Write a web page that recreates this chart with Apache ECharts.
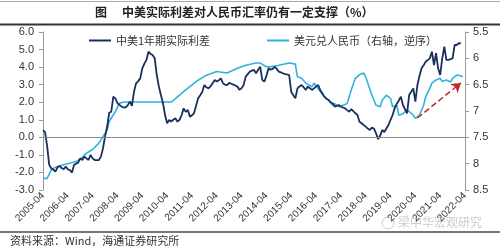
<!DOCTYPE html>
<html><head><meta charset="utf-8">
<script src="https://cdn.jsdelivr.net/npm/echarts@6/dist/echarts.min.js"></script>
<style>html,body{margin:0;padding:0;background:#fff}#c{width:500px;height:250px}</style>
</head><body><div id="c"></div>
<script>
// month index 0 = 2005-04
const startYear = 2005;
const xTickLabels = [];
for (let y = 2005; y <= 2022; y++) xTickLabels.push(y + '-04');
const seriesNames = ['中美1年期实际利差', '美元兑人民币（右轴，逆序）'];
// 中美1年期实际利差, monthly from 2005-04
const spread = [0.40,0.30,-0.5,-1.57,-1.76,-1.85,-1.95,-1.71,-1.63,-1.75,-1.82,-1.67,-1.82,-1.86,-2.01,-1.57,-1.5,-1.44,-1.2,-1.29,
-1.1,-1.2,-1.29,-1.0,-1.2,-1.29,-1.3,-1.29,-1.1,-0.62,0.04,0.6,1.4,1.46,2.32,2.22,1.94,1.85,1.75,1.7,
1.71,1.84,2.03,1.79,2.6,3.08,3.2,3.36,3.93,4.2,4.41,4.88,4.75,4.69,4.5,3.55,2.9,2.41,1.94,1.27,
0.8,0.99,0.9,1.0,1.09,0.89,1.0,1.27,1.65,1.45,1.56,1.18,1.25,1.37,1.8,2.22,2.4,2.6,2.98,2.85,
2.79,2.9,3.08,3.27,3.18,3.25,3.36,3.08,3.0,2.98,3.1,3.05,3.0,2.95,2.89,2.7,2.8,2.98,3.46,3.6,
3.74,3.8,3.84,3.65,3.85,4.02,3.27,3.17,3.5,3.93,3.85,3.9,4.02,3.9,3.74,3.7,3.65,3.6,3.58,3.55,
2.6,2.4,2.22,2.79,2.9,2.98,2.85,2.7,2.89,2.8,2.7,2.79,2.9,2.98,2.7,2.51,2.32,2.2,2.13,2.0,
1.94,1.75,1.8,1.84,1.75,1.7,1.65,1.55,1.46,1.6,1.5,1.37,1.27,0.89,0.8,0.7,0.61,0.5,0.42,0.55,
0.5,0.23,-0.1,0.1,0.42,0.3,0.5,0.7,1.0,1.27,1.65,1.9,2.1,2.32,1.84,1.6,1.37,2.41,2.6,2.79,
2.03,2.98,3.5,3.93,4.1,4.31,4.4,4.5,4.88,4.12,4.79,3.93,3.55,4.5,5.16,4.41,4.41,4.45,4.5,5.26,
5.26,5.36,5.36];
// 美元兑人民币 [month index, rate]
const usdcny = [[0,8.28],[2,8.28],[3,8.2],[4,8.11],[6,8.07],[11,8.01],[16,7.96],[19,7.88],[21,7.8],[24,7.73],[27,7.61],[29,7.49],[31,7.36],[32,7.2],[35,7.01],[37,6.85],[39,6.83],[62,6.83],[65,6.73],[69,6.6],[74,6.44],[79,6.32],[84,6.25],[89,6.28],[94,6.19],[98,6.13],[103,6.09],[105,6.09],[108,6.16],[110,6.16],[114,6.13],[119,6.09],[122,6.11],[123,6.35],[125,6.38],[127,6.47],[130,6.54],[131,6.47],[134,6.63],[136,6.73],[138,6.79],[140,6.89],[141,6.86],[143,6.92],[145,6.89],[147,6.86],[149,6.6],[151,6.38],[153,6.31],[155,6.28],[156,6.35],[157,6.47],[159,6.7],[161,6.89],[163,6.92],[164,6.79],[166,6.7],[168,6.76],[169,6.92],[171,6.89],[172,7.08],[174,7.05],[176,6.98],[177,7.01],[179,7.08],[180,7.14],[182,7.08],[184,6.89],[185,6.73],[187,6.57],[188,6.47],[190,6.41],[192,6.38],[193,6.44],[195,6.41],[197,6.45],[198,6.38],[200,6.32],[201,6.32],[203,6.35]];
// annotation arrow endpoints [month index, spread]
const arrowFrom = [181, 1.1];
const arrowTo = [202, 3.1];

const spreadPairs = spread.map((v, i) => [i, v]);
const font = '"Liberation Sans", Arial, sans-serif';
const cjk = '"Noto Sans CJK SC", sans-serif';
const chart = echarts.init(document.getElementById('c'), null, {renderer: 'canvas'});
chart.setOption({
  animation: false,
  grid: {left: 43, right: 35, top: 32, bottom: 60, containLabel: false},
  legend: [
    {data: [seriesNames[0]], left: 84, top: 30, itemWidth: 22, itemHeight: 10, icon: 'path://M0,4L22,4L22,6L0,6Z',
     textStyle: {fontFamily: cjk, fontSize: 11, color: '#333'}},
    {data: [seriesNames[1]], left: 262, top: 30, itemWidth: 22, itemHeight: 10, icon: 'path://M0,4L22,4L22,6L0,6Z',
     textStyle: {fontFamily: cjk, fontSize: 11, color: '#333'}}
  ],
  xAxis: {
    type: 'value', min: 0, max: 204, interval: 12,
    axisLine: {show: false, onZero: false}, axisTick: {show: false}, splitLine: {show: false},
    axisLabel: {rotate: 45, fontSize: 10, fontFamily: font, color: '#333', margin: 4,
      formatter: v => xTickLabels[Math.round(v / 12)] || ''}
  },
  yAxis: [
    {type: 'value', min: -3, max: 6, interval: 1,
     axisLine: {show: true, lineStyle: {color: '#999'}}, axisTick: {show: true, length: 4, lineStyle: {color: '#999'}},
     splitLine: {show: false},
     axisLabel: {fontSize: 11, fontFamily: font, color: '#333', margin: 9, formatter: v => v.toFixed(1)}},
    {type: 'value', min: 5.5, max: 8.5, interval: 0.5, inverse: true, position: 'right',
     axisLine: {show: true, lineStyle: {color: '#999'}}, axisTick: {show: true, length: 4, lineStyle: {color: '#999'}},
     splitLine: {show: false},
     axisLabel: {fontSize: 11, fontFamily: font, color: '#333', margin: 8, formatter: v => String(v)}}
  ],
  series: [
    {name: seriesNames[1], type: 'line', yAxisIndex: 1, data: usdcny, symbol: 'none',
     lineStyle: {color: '#2EB2E0', width: 1.6}, itemStyle: {color: '#2EB2E0'},
     markLine: {silent: true, symbol: ['none', 'none'], label: {show: false},
       lineStyle: {color: '#888', type: 'solid', width: 1},
       data: [{yAxis: 7.5}]}},
    {name: seriesNames[0], type: 'line', yAxisIndex: 0, data: spreadPairs, symbol: 'none',
     lineStyle: {color: '#1B2F5E', width: 1.8}, itemStyle: {color: '#1B2F5E'}, z: 3,
     markLine: {silent: true, symbol: ['none', 'arrow'], symbolSize: 9, label: {show: false},
       lineStyle: {color: '#C0282A', type: 'dashed', width: 1.5},
       data: [[{coord: arrowFrom}, {coord: arrowTo}]]}}
  ],
  graphic: [
    {type: 'rect', shape: {x: 0, y: 1, width: 500, height: 1}, style: {fill: '#aaa'}},
    {type: 'rect', shape: {x: 0, y: 23.5, width: 500, height: 2}, style: {fill: '#333'}},
    {type: 'text', left: 95, top: 6, style: {text: '图', fontFamily: cjk, fontSize: 12, fontWeight: 'bold', fill: '#222'}},
    {type: 'text', left: 122, top: 6, style: {text: '中美实际利差对人民币汇率仍有一定支撑（%）', fontFamily: cjk, fontSize: 12, fontWeight: 'bold', fill: '#222'}},
    {type: 'rect', shape: {x: 0, y: 231, width: 500, height: 2}, style: {fill: '#777'}},
    {type: 'text', left: 10, top: 235, style: {text: '资料来源：Wind，海通证券研究所', fontFamily: cjk, fontSize: 11, fill: '#333'}},
    {type: 'text', left: 398, top: 216, style: {text: '梁中华宏观研究', fontFamily: cjk, fontSize: 12, fill: 'rgba(140,140,140,0.45)'}},
    {type: 'circle', shape: {cx: 388, cy: 223, r: 6}, style: {fill: 'none', stroke: 'rgba(140,140,140,0.45)', lineWidth: 1}}
  ]
});
</script></body></html>
